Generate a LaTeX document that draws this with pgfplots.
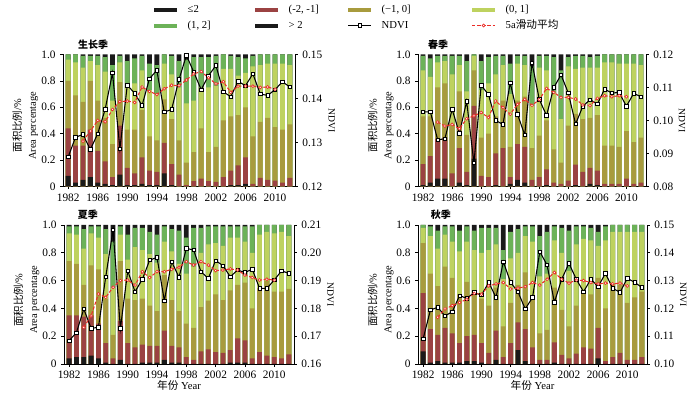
\documentclass[border=0pt]{standalone}
\usepackage{fontspec}
\setmainfont{Liberation Serif}
\newfontfamily\cjk{Noto Sans CJK SC}
\usepackage{pgfplots}
\usepackage{pgfplotstable}
\pgfplotsset{compat=1.18}

\definecolor{cA}{RGB}{26,26,26}
\definecolor{cB}{RGB}{155,66,66}
\definecolor{cC}{RGB}{168,155,62}
\definecolor{cD}{RGB}{190,210,95}
\definecolor{cE}{RGB}{108,178,88}
\definecolor{cMA}{RGB}{235,45,40}

% cumulative class boundaries c1..c6 (area fraction), NDVI, 5-yr moving average
\pgfplotstableread{
yr c1 c2 c3 c4 c5 c6 nd ma
1982 .08 .44 .80 .96 1.00 1 .1267 nan
1983 .03 .31 .69 .94 1.00 1 .1312 nan
1984 .05 .31 .64 .90 .99 1 .1318 .1303
1985 .07 .43 .80 .95 .99 1 .1284 .1326
1986 .03 .27 .65 .92 .99 1 .1320 .1350
1987 .02 .19 .52 .87 .98 1 .1375 .1347
1988 .01 .07 .32 .65 .92 1 .1458 .1375
1989 .09 .46 .79 .94 .99 1 .1286 .1393
1990 .01 .14 .43 .76 .95 1 .1430 .1394
1991 .01 .10 .43 .78 .97 1 .1412 .1391
1992 .02 .22 .58 .88 .99 1 .1384 .1426
1993 .01 .12 .38 .73 .93 1 .1445 .1416
1994 .01 .11 .35 .70 .92 1 .1464 .1409
1995 .10 .33 .66 .93 1.00 1 .1369 .1422
1996 .01 .17 .51 .85 .99 1 .1375 .1430
1997 .00 .09 .35 .75 .95 1 .1443 .1429
1998 .00 .01 .18 .63 .96 1 .1498 .1442
1999 .00 .04 .26 .65 .98 1 .1460 .1456
2000 .00 .06 .44 .75 .98 1 .1420 .1461
2001 .00 .04 .26 .75 .98 1 .1452 .1447
2002 .00 .035 .30 .76 .99 1 .1475 .1433
2003 .00 .07 .50 .89 1.00 1 .1415 .1438
2004 .01 .12 .53 .89 .99 1 .1404 .1414
2005 .01 .16 .54 .84 .98 1 .1439 .1428
2006 .02 .22 .60 .86 .97 1 .1429 .1428
2007 .00 .02 .38 .91 .99 1 .1456 .1428
2008 .00 .065 .49 .92 1.00 1 .1410 .1425
2009 .00 .05 .52 .93 1.00 1 .1407 .1426
2010 .00 .045 .45 .93 1.00 1 .1420 .1421
2011 .00 .03 .43 .93 1.00 1 .1438 nan
2012 .00 .065 .47 .92 1.00 1 .1426 nan
}\tGS

\pgfplotstableread{
yr c1 c2 c3 c4 c5 c6 nd ma
1982 .01 .17 .53 .88 .99 1 .1026 nan
1983 .03 .23 .53 .83 .97 1 .1026 nan
1984 .06 .36 .75 .94 .99 1 .0942 .0995
1985 .06 .37 .78 .95 .99 1 .0944 .0983
1986 .00 .10 .47 .85 .99 1 .1034 .0988
1987 .03 .29 .72 .92 .99 1 .0961 .0975
1988 .01 .11 .39 .72 .95 1 .1058 .1005
1989 .21 .61 .88 .99 1.00 1 .0871 .1014
1990 .00 .08 .37 .73 .95 1 .1106 .1024
1991 .00 .07 .40 .78 .98 1 .1079 .1009
1992 .01 .25 .53 .85 .99 1 .1000 .1059
1993 .00 .29 .65 .92 .99 1 .0988 .1039
1994 .02 .07 .30 .70 .93 1 .1114 .1019
1995 .05 .32 .65 .93 .99 1 .1019 .1049
1996 .03 .30 .68 .92 .99 1 .0956 .1064
1997 .00 .05 .29 .61 .91 1 .1175 .1046
1998 .00 .07 .385 .90 .99 1 .1064 .1063
1999 .01 .13 .50 .88 .99 1 .1015 .1097
2000 .00 .03 .28 .71 .98 1 .1100 .1085
2001 .00 .02 .18 .51 .88 1 .1138 .1070
2002 .00 .045 .46 .91 .98 1 .1083 .1070
2003 .01 .165 .55 .89 .99 1 .0989 .1065
2004 .00 .11 .51 .90 .99 1 .1043 .1047
2005 .02 .14 .52 .90 .98 1 .1063 .1045
2006 .01 .12 .54 .90 .99 1 .1050 .1067
2007 .00 .02 .31 .94 1.00 1 .1095 .1075
2008 .00 .02 .31 .94 1.00 1 .1083 .1072
2009 .00 .02 .30 .93 1.00 1 .1085 .1075
2010 .00 .06 .42 .93 1.00 1 .1043 .1072
2011 .00 .02 .335 .93 1.00 1 .1082 nan
2012 .00 .03 .37 .92 1.00 1 .1072 nan
}\tSP

\pgfplotstableread{
yr c1 c2 c3 c4 c5 c6 nd ma
1982 .04 .35 .74 .94 .99 1 .1684 nan
1983 .05 .35 .72 .93 .99 1 .1713 nan
1984 .05 .34 .57 .83 .97 1 .1798 .1732
1985 .06 .35 .71 .94 .99 1 .1728 .1773
1986 .04 .29 .68 .91 .99 1 .1732 .1852
1987 .01 .15 .47 .79 .97 1 .1914 .1840
1988 .00 .04 .21 .55 .88 1 .2082 .1876
1989 .03 .31 .74 .93 .99 1 .1728 .1900
1990 .00 .15 .47 .75 .93 1 .1935 .1902
1991 .00 .12 .46 .84 .98 1 .1860 .1884
1992 .01 .14 .47 .82 .98 1 .1905 .1932
1993 .01 .13 .42 .79 .95 1 .1974 .1911
1994 .01 .13 .38 .73 .93 1 .1983 .1932
1995 .03 .24 .64 .88 .99 1 .1828 .1932
1996 .01 .13 .46 .81 .97 1 .1968 .1941
1997 .01 .12 .38 .72 .96 1 .1912 .1948
1998 .00 .05 .29 .65 .91 1 .2016 .1968
1999 .00 .03 .26 .70 .98 1 .2010 .1956
2000 .00 .09 .41 .80 .98 1 .1932 .1968
2001 .00 .105 .455 .86 .99 1 .1908 .1956
2002 .00 .085 .50 .87 .99 1 .1972 .1936
2003 .00 .08 .46 .85 .99 1 .1954 .1938
2004 .01 .10 .53 .91 .99 1 .1914 .1942
2005 .01 .185 .57 .91 .99 1 .1938 .1938
2006 .01 .17 .585 .88 .99 1 .1929 .1920
2007 .00 .04 .40 .80 .99 1 .1941 .1911
2008 .00 .085 .545 .93 1.00 1 .1872 .1902
2009 .00 .06 .60 .95 1.00 1 .1872 .1905
2010 .00 .05 .52 .94 1.00 1 .1902 .1902
2011 .00 .04 .52 .95 1.00 1 .1935 nan
2012 .00 .07 .54 .92 1.00 1 .1926 nan
}\tSU

\pgfplotstableread{
yr c1 c2 c3 c4 c5 c6 nd ma
1982 .09 .51 .87 .98 1.00 1 .1090 nan
1983 .01 .25 .65 .92 .99 1 .1194 nan
1984 .02 .21 .56 .83 .96 1 .1204 .1168
1985 .01 .26 .70 .93 .99 1 .1173 .1198
1986 .01 .22 .62 .88 .99 1 .1188 .1210
1987 .01 .15 .50 .81 .96 1 .1246 .1221
1988 .02 .20 .59 .88 .99 1 .1236 .1233
1989 .02 .21 .53 .82 .96 1 .1257 .1254
1990 .01 .15 .47 .80 .98 1 .1248 .1251
1991 .00 .08 .42 .82 .98 1 .1293 .1281
1992 .03 .24 .55 .86 .98 1 .1239 .1288
1993 .00 .05 .27 .61 .82 1 .1368 .1293
1994 .00 .15 .44 .76 .95 1 .1293 .1270
1995 .10 .30 .57 .80 .97 1 .1260 .1273
1996 .02 .25 .66 .92 .99 1 .1198 .1278
1997 .00 .12 .48 .88 .99 1 .1239 .1293
1998 .00 .03 .22 .63 .92 1 .1404 .1284
1999 .00 .03 .245 .65 .95 1 .1356 .1305
2000 .01 .155 .55 .89 .99 1 .1222 .1329
2001 .00 .065 .39 .80 .98 1 .1305 .1305
2002 .00 .04 .27 .67 .96 1 .1362 .1291
2003 .00 .075 .42 .86 .99 1 .1305 .1302
2004 .00 .12 .51 .90 .99 1 .1260 .1300
2005 .00 .11 .50 .89 .98 1 .1305 .1293
2006 .04 .26 .62 .85 .95 1 .1278 .1288
2007 .00 .02 .40 .89 .99 1 .1326 .1291
2008 .00 .05 .58 .95 1.00 1 .1272 .1288
2009 .00 .08 .57 .95 1.00 1 .1258 .1291
2010 .00 .03 .44 .95 1.00 1 .1308 .1281
2011 .00 .03 .48 .95 1.00 1 .1294 nan
2012 .00 .05 .52 .95 1.00 1 .1275 nan
}\tAU

\pgfplotsset{
  base/.style={scale only axis, xmin=1981.3, xmax=2012.7,
    tick align=outside, major tick length=2pt,
    axis line style={line width=0.6pt, black},
    tick style={line width=0.5pt, black},
    tick label style={font=\fontsize{8.5}{10}\selectfont},
    /pgf/number format/assume math mode=true,
    /pgf/number format/1000 sep={},
    legend style={anchor=north west, draw=none, fill=none, inner sep=0pt,
      font=\fontsize{8}{9}\selectfont, cells={anchor=west},
      nodes={inner sep=1.5pt, text height=6pt, text depth=2pt},
      row sep=1pt, /tikz/every odd column/.append style={column sep=5pt}},
  },
  barax/.style={base, ymin=0, ymax=1,
    axis x line*=bottom, axis y line*=left,
    xtick={1982,1986,...,2010},
    ytick={0,0.2,0.4,0.6,0.8,1}, yticklabels={0,0.2,0.4,0.6,0.8,1.0},
    ylabel={{\cjk 面积比例}/\%\\Area percentage},
    every axis y label/.style={at={(axis description cs:-0.163,0.46)}, rotate=90,
      anchor=center, align=center, font=\fontsize{7.8}{11}\selectfont},
    every axis title/.style={anchor=center, font=\fontsize{7.5}{9}\selectfont\bfseries},
    every axis x label/.style={at={(axis description cs:0.5,-0.151)}, anchor=center,
      font=\fontsize{8}{9}\selectfont},
  },
  ndax/.style={base, axis x line=none, axis y line*=right,
    ylabel={NDVI},
    every axis y label/.style={at={(axis description cs:1.158,0.5)}, rotate=-90,
      anchor=center, font=\fontsize{7.2}{8}\selectfont},
  },
  bp/.style={ybar, bar width=0.66, bar shift=0pt, draw=none, fill=#1, forget plot},
  ndlook/.style={black, line width=0.8pt, mark=square*, mark size=1.3pt,
    mark options={fill=white, draw=black, line width=0.5pt, solid}},
  malook/.style={cMA, line width=0.8pt, dash pattern=on 2.4pt off 1.4pt, mark=*, mark size=1.1pt,
    mark options={solid, fill=white, draw=cMA, line width=0.5pt}},
  legbar/.style={line width=3pt, #1},
}

\newcommand\bars[1]{%
  \addplot[bp=cA] table[x=yr,y=c6]{#1};
  \addplot[bp=cE] table[x=yr,y=c5]{#1};
  \addplot[bp=cD] table[x=yr,y=c4]{#1};
  \addplot[bp=cC] table[x=yr,y=c3]{#1};
  \addplot[bp=cB] table[x=yr,y=c2]{#1};
  \addplot[bp=cA] table[x=yr,y=c1]{#1};
}
\newcommand\lines[1]{%
  \addplot[ndlook, forget plot] table[x=yr,y=nd]{#1};
  \addplot[malook, forget plot] table[x=yr,y=ma]{#1};
}

\begin{document}
\begin{tikzpicture}
\useasboundingbox (0,0) rectangle (525pt,296.25pt);

% ---------- panel 1: growing season ----------
\begin{axis}[barax, at={(47.25pt,156.4pt)}, anchor=south west, width=174pt, height=99pt,
  title={\cjk 生长季}, title style={at={(axis description cs:0.13,1.072)}},
  legend style={at={(axis description cs:0.3836,1.398)}}]
\addlegendimage{legbar=cA}\addlegendentry{≤2}
\addlegendimage{legbar=cE}\addlegendentry{(1, 2]}
\bars{\tGS}
\end{axis}
\begin{axis}[ndax, at={(47.25pt,156.4pt)}, anchor=south west, width=174pt, height=99pt,
  ymin=0.12, ymax=0.15, ytick={0.12,0.13,0.14,0.15}, yticklabels={0.12,0.13,0.14,0.15},
  legend style={at={(axis description cs:0.819,1.398)}}]
\addlegendimage{legbar=cB}\addlegendentry{(-2, -1]}
\addlegendimage{legbar=cA}\addlegendentry{> 2}
\lines{\tGS}
\end{axis}

% ---------- panel 2: spring ----------
\begin{axis}[barax, at={(313.5pt,156.4pt)}, anchor=south west, width=171pt, height=99pt,
  title={\cjk 春季}, title style={at={(axis description cs:0.088,1.072)}},
  legend style={at={(axis description cs:-0.316,1.398)}}]
\addlegendimage{legbar=cC}\addlegendentry{(−1, 0]}
\addlegendimage{ndlook}\addlegendentry{NDVI}
\bars{\tSP}
\end{axis}
\begin{axis}[ndax, at={(313.5pt,156.4pt)}, anchor=south west, width=171pt, height=99pt,
  ymin=0.08, ymax=0.12, ytick={0.08,0.09,0.10,0.11,0.12}, yticklabels={0.08,0.09,0.10,0.11,0.12},
  legend style={at={(axis description cs:0.228,1.398)}}]
\addlegendimage{legbar=cD}\addlegendentry{(0, 1]}
\addlegendimage{malook}\addlegendentry{5a{\cjk 滑动平均}}
\lines{\tSP}
\end{axis}

% ---------- panel 3: summer ----------
\begin{axis}[barax, at={(48pt,23.25pt)}, anchor=south west, width=172.5pt, height=104.25pt,
  title={\cjk 夏季}, title style={at={(axis description cs:0.104,1.072)}},
  xlabel={{\cjk 年份} Year}]
\bars{\tSU}
\end{axis}
\begin{axis}[ndax, at={(48pt,23.25pt)}, anchor=south west, width=172.5pt, height=104.25pt,
  ymin=0.16, ymax=0.21, ytick={0.16,0.17,0.18,0.19,0.20,0.21}, yticklabels={0.16,0.17,0.18,0.19,0.20,0.21}]
\lines{\tSU}
\end{axis}

% ---------- panel 4: autumn ----------
\begin{axis}[barax, at={(313.5pt,23.25pt)}, anchor=south west, width=171.75pt, height=104.25pt,
  title={\cjk 秋季}, title style={at={(axis description cs:0.10,1.072)}},
  xlabel={{\cjk 年份} Year}]
\bars{\tAU}
\end{axis}
\begin{axis}[ndax, at={(313.5pt,23.25pt)}, anchor=south west, width=171.75pt, height=104.25pt,
  ymin=0.10, ymax=0.15, ytick={0.10,0.11,0.12,0.13,0.14,0.15}, yticklabels={0.10,0.11,0.12,0.13,0.14,0.15}]
\lines{\tAU}
\end{axis}
\end{tikzpicture}
\end{document}
